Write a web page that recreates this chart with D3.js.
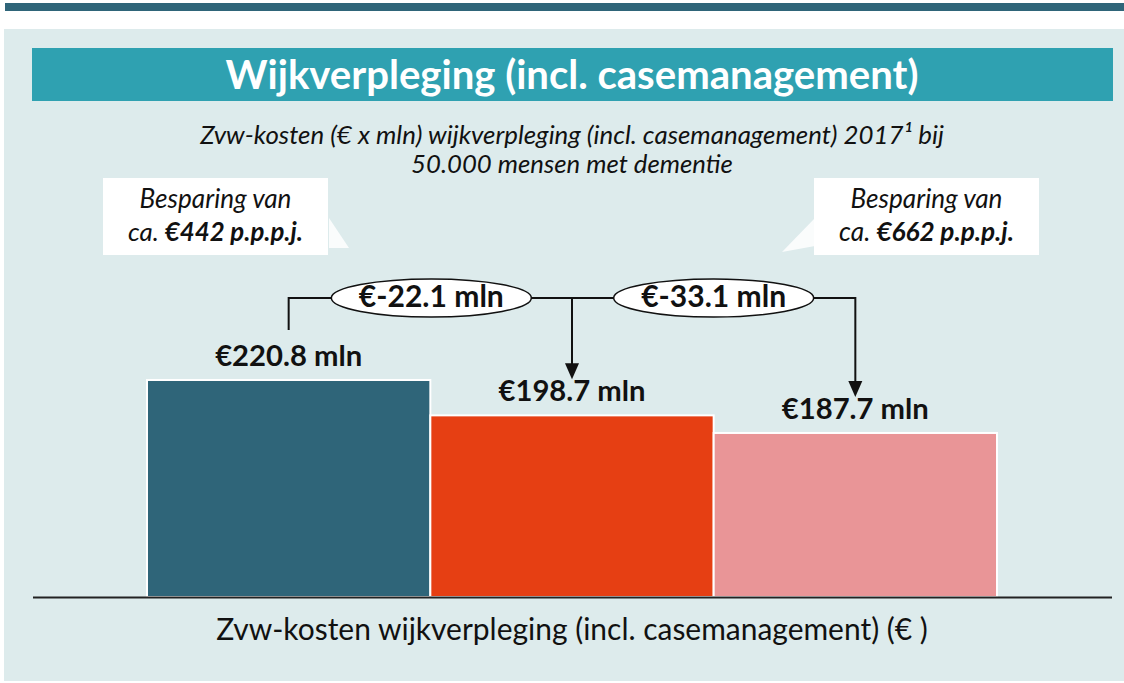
<!DOCTYPE html>
<html><head><meta charset="utf-8">
<script src="https://cdn.jsdelivr.net/npm/d3@7"></script>
<style>body{margin:0;background:#fff}svg{display:block}text{font-family:Lato,"Open Sans",sans-serif}</style>
</head><body><svg id="c" width="1124" height="683"></svg>
<script>
const categories = ["Huidig", "Scenario 1", "Scenario 2"];
const values = [220.8, 198.7, 187.7];
const valueLabels = ["€220.8 mln", "€198.7 mln", "€187.7 mln"];
const diffLabels = ["€-22.1 mln", "€-33.1 mln"];
const savingsPerPerson = ["€442 p.p.p.j.", "€662 p.p.p.j."];
const colors = ["#2F6579", "#E63F13", "#E99597"];
const title = "Wijkverpleging (incl. casemanagement)";
const subtitle = ["Zvw-kosten (€ x mln) wijkverpleging (incl. casemanagement) 2017¹ bij", "50.000 mensen met dementie"];
const axisTitle = "Zvw-kosten wijkverpleging (incl. casemanagement) (€ )";

const svg = d3.select("#c");
function fitText(sel, w){ const n = sel.node(); const L = n.getComputedTextLength(); const fs = parseFloat(sel.attr("font-size")); sel.attr("font-size", fs*w/L); return sel; }

svg.append("rect").attr("x",5).attr("y",3).attr("width",1119).attr("height",8).attr("fill","#2F6579");
svg.append("rect").attr("x",4).attr("y",29).attr("width",1120).attr("height",652).attr("fill","#DDEBEC");
svg.append("rect").attr("x",32).attr("y",48).attr("width",1081).attr("height",53).attr("fill","#2FA1B1");
fitText(svg.append("text").attr("x",572).attr("y",89).attr("text-anchor","middle").attr("fill","#fff").attr("font-weight","bold").attr("font-size",36).text(title), 693);

const subW = [744, 322];
subtitle.forEach((s,i)=>{
  const t = svg.append("text").attr("x",572).attr("y",[144,173][i]).attr("text-anchor","middle").attr("font-style","italic").attr("font-size",20).attr("fill","#111").text(s);
  fitText(t, subW[i]);
});

const x = d3.scaleBand().domain(categories).range([147,997]).padding(0);
const y = d3.scaleLinear().domain([85.2, 220.8]).range([597, 380]);

svg.append("g").selectAll("rect").data(values).join("rect")
  .attr("x",(d,i)=>x(categories[i])).attr("y",d=>y(d))
  .attr("width",x.bandwidth()).attr("height",d=>597-y(d))
  .attr("fill",(d,i)=>colors[i]).attr("stroke","#fff").attr("stroke-width",2);

svg.append("line").attr("x1",33).attr("x2",1112).attr("y1",597.5).attr("y2",597.5).attr("stroke","#222").attr("stroke-width",2);

const cx = i => x(categories[i]) + x.bandwidth()/2;
svg.append("g").selectAll("text").data(values).join("text")
  .attr("x",(d,i)=>cx(i)).attr("y",d=>y(d)-14).attr("text-anchor","middle")
  .attr("font-weight","bold").attr("font-size",24).attr("fill","#111").text((d,i)=>valueLabels[i])
  .each(function(){ fitText(d3.select(this), 147); });

// connectors
const cy = 298;
const g = svg.append("g").attr("stroke","#111").attr("stroke-width",2).attr("fill","none");
g.append("path").attr("d",`M${cx(0)},330 V${cy} H${cx(2)} V${y(values[2])-48}`);
g.append("path").attr("d",`M${cx(1)},${cy} V${y(values[1])-50}`);
[[cx(1), y(values[1])-36],[cx(2), y(values[2])-36]].forEach(([ax,ay])=>{
  svg.append("path").attr("d",`M${ax-7},${ay-16} L${ax+7},${ay-16} L${ax},${ay} Z`).attr("fill","#111");
});
const ellX = [(cx(0)+cx(1))/2 + 1, (cx(1)+cx(2))/2];
ellX.forEach((ex,i)=>{
  svg.append("ellipse").attr("cx",ex).attr("cy",cy).attr("rx",100).attr("ry",19).attr("fill","#fff").attr("stroke","#111").attr("stroke-width",1.5);
  fitText(svg.append("text").attr("x",ex).attr("y",cy+9).attr("text-anchor","middle").attr("font-weight","bold").attr("font-size",24).attr("fill","#111").text(diffLabels[i]), 145);
});

// callouts
const callouts = [
  {bx:103, tail:"M329,218 L349,248 L329,248 Z"},
  {bx:814, tail:"M815,218 L782,252 L815,246 Z"}
];
callouts.forEach((c,i)=>{
  svg.append("path").attr("d",c.tail).attr("fill","#fff").attr("opacity",0.85);
  svg.append("rect").attr("x",c.bx).attr("y",178).attr("width",225).attr("height",77).attr("fill","#fff");
  const mx = c.bx + 112.5;
  fitText(svg.append("text").attr("x",mx).attr("y",208).attr("text-anchor","middle").attr("font-style","italic").attr("font-size",20).attr("fill","#111").text("Besparing van"), 152);
  const t = svg.append("text").attr("x",mx).attr("y",241).attr("text-anchor","middle").attr("font-style","italic").attr("font-size",20).attr("fill","#111");
  t.append("tspan").text("ca. ");
  t.append("tspan").attr("font-weight","bold").text(savingsPerPerson[i]);
  fitText(t, 175);
});

fitText(svg.append("text").attr("x",572).attr("y",640).attr("text-anchor","middle").attr("font-size",24).attr("fill","#111").text(axisTitle), 712);
</script></body></html>
